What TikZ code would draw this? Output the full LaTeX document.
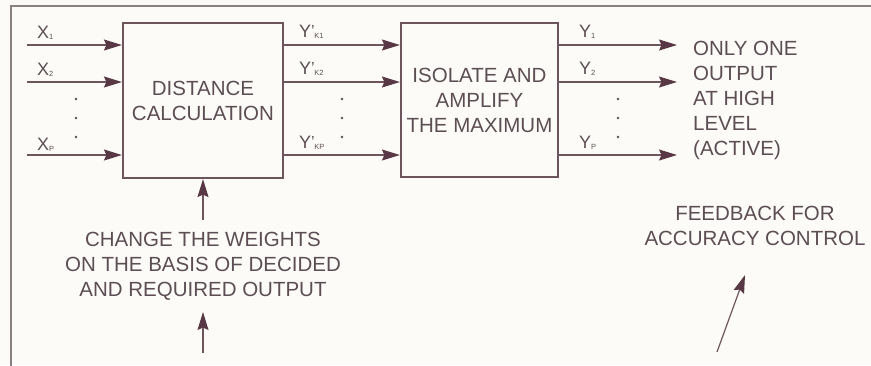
\documentclass[tikz,border=0pt]{standalone}
\usepackage{fontspec}
\setmainfont{Liberation Sans}
\usetikzlibrary{arrows.meta}
\definecolor{linec}{RGB}{110,84,92}
\definecolor{textc}{RGB}{92,78,84}
\definecolor{headc}{RGB}{88,56,68}
\definecolor{framec}{RGB}{138,128,131}
\definecolor{bgc}{RGB}{252,251,248}
\newcommand{\sbs}[1]{\raisebox{-1.5pt}{\fontsize{7.5}{8}\selectfont #1}}
\newcommand{\prm}{\raisebox{0.5pt}{\fontsize{16}{16}\selectfont ’}\kern-0.5pt}
\tikzset{
  blockbox/.style={draw=linec, line width=2.2pt, minimum width=160pt, minimum height=155pt, inner sep=0pt,
    text=textc, align=center, font=\fontsize{20.5}{25}\selectfont},
  arr/.style={draw=linec, line width=1.2pt, -{Stealth[length=18pt,width=11pt,inset=2.5pt,fill=headc,color=headc]}},
  lbl/.style={anchor=base west, inner sep=0pt, text=textc, font=\fontsize{18}{20}\selectfont},
  note/.style={inner sep=0pt, text=textc, font=\fontsize{20.5}{25}\selectfont},
  dotc/.style={fill=textc}
}
\begin{document}
\begin{tikzpicture}[x=1pt, y=-1pt]
\fill[bgc] (0,0) rectangle (871,365);
\useasboundingbox (0,0) rectangle (871,365);
\draw[framec, line width=1.5pt] (11,366) -- (11,6) -- (872,6);

\node[blockbox] (b1) at (203,100.5) {DISTANCE\\CALCULATION};
\node[blockbox, minimum width=157pt, minimum height=154pt] (b2) at (479.5,100) {ISOLATE AND\\AMPLIFY\\THE MAXIMUM};

% inputs
\coordinate (x1) at (27,45);
\coordinate (x2) at (27,82);
\coordinate (xp) at (27,155);
\draw[arr] (x1) -- (x1 -| b1.west);
\draw[arr] (x2) -- (x2 -| b1.west);
\draw[arr] (xp) -- (xp -| b1.west);
\node[lbl] (lx1) at (37,38) {X\sbs{1}};
\node[lbl] (lx2) at (37,75) {X\sbs{2}};
\node[lbl] (lxp) at (37,150) {X\sbs{P}};

% middle
\draw[arr] (b1.east |- x1) -- (b2.west |- x1);
\draw[arr] (b1.east |- x2) -- (b2.west |- x2);
\draw[arr] (b1.east |- xp) -- (b2.west |- xp);
\node[lbl] (ly1) at (299,37) {Y\prm\sbs{K1}};
\node[lbl] (ly2) at (299,74) {Y\prm\sbs{K2}};
\node[lbl] (lyp) at (299,148) {Y\prm\sbs{KP}};

% outputs
\coordinate (o1) at (677,45);
\coordinate (o2) at (677,82);
\coordinate (op) at (677,155);
\draw[arr] (b2.east |- o1) -- (o1);
\draw[arr] (b2.east |- o2) -- (o2);
\draw[arr] (b2.east |- op) -- (op);
\node[lbl] (lo1) at (579,37) {Y\sbs{1}};
\node[lbl] (lo2) at (579,74) {Y\sbs{2}};
\node[lbl] (lop) at (579,148) {Y\sbs{P}};

% dots
\foreach \xx in {76,342,618}{
  \foreach \yy in {99,118,137}{
    \fill[dotc] (\xx,\yy) circle (1.4pt);
  }
}

\node[note, anchor=west, align=left] (only) at (693,100) {ONLY ONE\\OUTPUT\\AT HIGH\\LEVEL\\(ACTIVE)};

\node[note, align=center] (chg) at (203,266) {CHANGE THE WEIGHTS\\ON THE BASIS OF DECIDED\\AND REQUIRED OUTPUT};
\coordinate (c1) at (203,220);
\draw[arr] (c1) -- (b1.south);
\coordinate (c2) at (203,353);
\coordinate (c2t) at (203,312);
\draw[arr] (c2) -- (c2t);

\node[note, align=center] (fb) at (755,226) {FEEDBACK FOR\\ACCURACY CONTROL};
\coordinate (f1) at (717,352);
\coordinate (f1t) at (745,275);
\draw[arr] (f1) -- (f1t);
\end{tikzpicture}
\end{document}
